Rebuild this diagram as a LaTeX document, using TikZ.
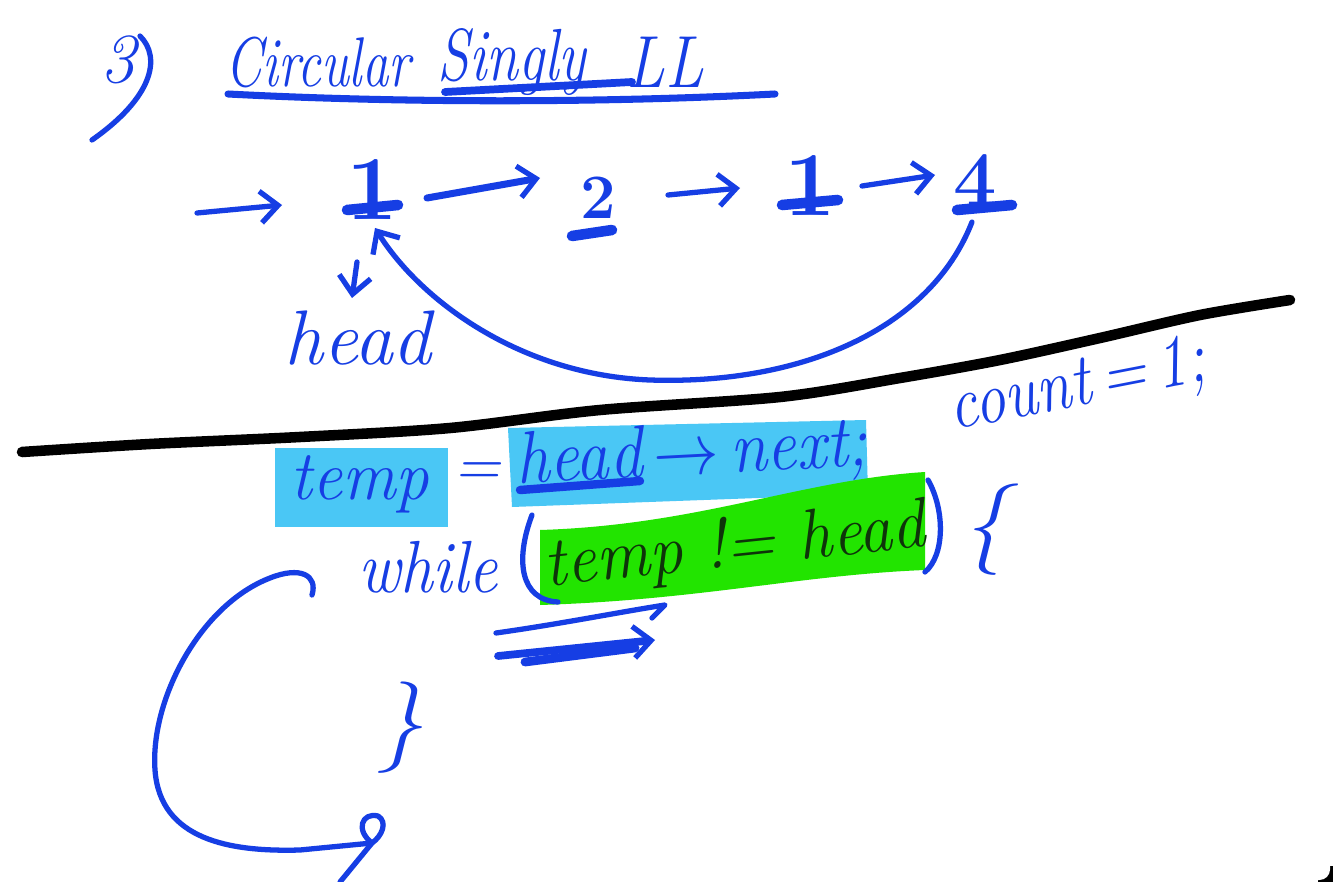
\documentclass[tikz,border=0pt]{standalone}
\usetikzlibrary{arrows.meta,calc}
\definecolor{hb}{RGB}{22,62,228}
\definecolor{hl}{RGB}{74,199,245}
\definecolor{hg}{RGB}{34,228,0}
\definecolor{hk}{RGB}{14,52,10}
\newcommand\sqz[2]{\scalebox{#1}[1]{#2}}
\tikzset{
  ink/.style={draw=hb, line width=1.5pt, line cap=round, line join=round},
  inkarrow/.style={ink, -{Straight Barb[length=5pt,width=9pt,line width=1.5pt]}},
  hand/.style={text=hb, inner sep=0pt, font=\fontsize{#1}{#1}\selectfont\itshape},
  digit/.style={text=hb, inner sep=1pt, font=\fontsize{#1}{#1}\selectfont\bfseries},
  ulmark/.style={draw=hb, line width=3pt, line cap=round},
}
\begin{document}
\begin{tikzpicture}[x=0.01cm,y=-0.01cm]
\useasboundingbox (0,0) rectangle (1333,882);
% corner of the screen
\fill[black] (1318,866) rectangle (1333,882);
\fill[white, rounded corners=3pt] (-20,-20) rectangle (1330,880);

% ---------- title ----------
\node[hand=20] (three) at (118,60) {3};
\draw[ink] (140,36) .. controls (162,58) and (152,98) .. (92,140);
\node[hand=20] (t1) at (318,62) {\sqz{0.75}{Circular}};
\node[hand=21] (t2) at (512,62) {\sqz{0.78}{Singly}};
\node[hand=21] (t3) at (665,62) {\sqz{0.85}{LL}};
\draw[ink, line width=2pt] (228,94) .. controls (420,104) and (620,102) .. (775,94);
\draw[ink, line width=2.2pt] (445,92) -- (632,82);

% ---------- list ----------
\coordinate (in) at (197,213);
\node[digit=26] (n1) at (372,190) {1};
\node[digit=18] (n2) at (598,198) {2};
\node[digit=26] (n3) at (810,186) {1};
\node[digit=22] (n4) at (975,180) {4};
\draw[ulmark] (347,210) -- (398,205);
\draw[ulmark] (572,236) -- (612,230);
\draw[ulmark] (782,205) -- (838,200);
\draw[ulmark] (957,210) -- (1012,205);
\draw[inkarrow] (in) -- ($(n1)+(-90,15)$);
\draw[inkarrow, line width=2pt] ($(n1)+(55,8)$) -- ($(n2)+(-58,-20)$);
\draw[inkarrow] ($(n2)+(70,-3)$) -- ($(n3)+(-70,2)$);
\draw[inkarrow] ($(n3)+(52,0)$) -- ($(n4)+(-40,-5)$);
\draw[inkarrow] ($(n4)+(-3,42)$) .. controls (930,330) and (800,385) .. (650,380)
      .. controls (520,375) and (420,300) .. ($(n1)+(3,38)$);
\node[hand=22] (head) at (358,338) {head};
\draw[inkarrow] ($(n1)+(-15,72)$) -- ($(head)+(-6,-40)$);

% ---------- divider ----------
\draw[black, line width=3pt, line cap=round] plot[smooth] coordinates
  {(22,452) (150,444) (300,437) (450,428) (600,410) (780,397) (900,378) (1000,360) (1100,338) (1200,315) (1290,300)};

\node[hand=21, rotate=11] (count) at (1078,388) {\sqz{0.84}{count\,=\,1;}};

% ---------- code ----------
\fill[hl] (275,448) rectangle (448,527);
\node[hand=20] (temp) at (360,484) {\sqz{0.95}{temp}};
\node[hand=18] (eq) at (477,474) {=};
\fill[hl] (508,428) -- (866,420) -- (868,494) -- (512,507) -- cycle;
\node[hand=21, rotate=3] (hn) at (692,456) {\sqz{0.9}{head\,$\rightarrow$\,next;}};
\draw[ink, line width=2.4pt] (520,490) -- (640,481);

\fill[hg] (540,530) .. controls (700,525) and (800,480) .. (925,472) -- (925,570)
   .. controls (800,575) and (700,600) .. (540,605) -- cycle;
\node[text=hk, inner sep=0pt, font=\fontsize{20}{20}\selectfont\itshape, rotate=6] (cond) at (735,548) {\sqz{0.95}{temp != head}};
\node[hand=21] (while) at (428,567) {\sqz{0.88}{while}};
\draw[ink] (532,515) .. controls (515,560) and (520,600) .. (558,602);
\draw[ink] (928,480) .. controls (945,510) and (945,555) .. (925,572);
\node[hand=26] (ob) at (985,530) {\{};

\draw[ink] (496,633) .. controls (560,624) and (620,612) .. (665,605) -- (652,618);
\draw[inkarrow, line width=2.2pt] (498,656) -- (655,640);
\draw[ink, line width=2.5pt] (525,662) -- (635,648);

\node[hand=26] (cb) at (400,728) {\}};

% loop-back arrow
\coordinate (ls) at (312,595);
\coordinate (le) at (372,843);
\draw[ink] (ls) .. controls (318,575) and (300,566) .. (270,578)
   .. controls (200,605) and (150,700) .. (155,770)
   .. controls (160,840) and (230,852) .. (300,850) -- (le);
\draw[ink] (le) .. controls (355,830) and (362,812) .. (378,816)
   .. controls (388,822) and (382,836) .. (le) -- (340,882);
\end{tikzpicture}
\end{document}
